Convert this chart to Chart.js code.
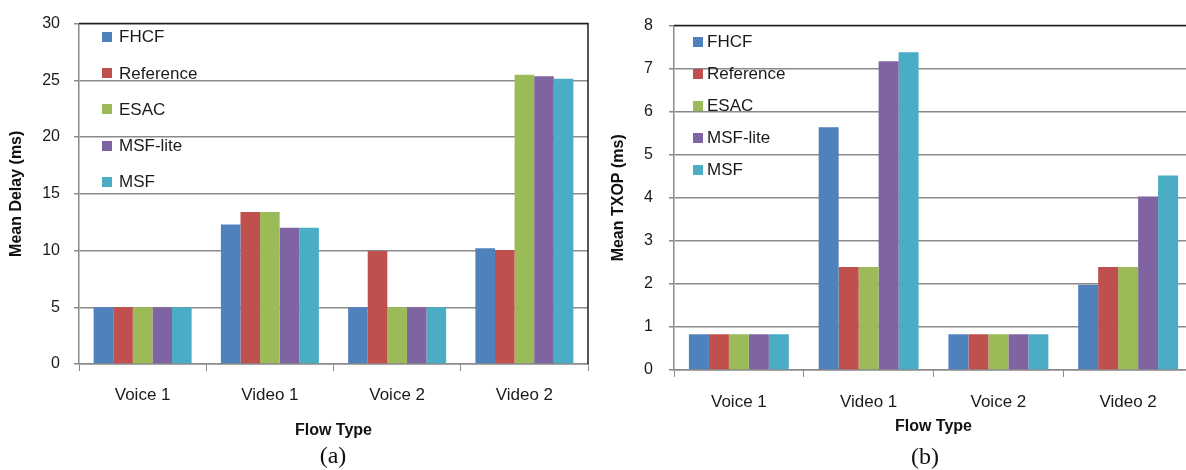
<!DOCTYPE html>
<html>
<head>
<meta charset="utf-8">
<script src="https://cdn.jsdelivr.net/npm/chart.js@4/dist/chart.umd.min.js"></script>
<style>
  html, body { margin: 0; padding: 0; background: #fff; overflow: hidden; width: 1186px; height: 470px; }
  #panelA { position: absolute; left: 0; top: 0; width: 595px; height: 470px; }
  #panelB { position: absolute; left: 595px; top: 0; width: 600px; height: 470px; }
  .cap { position: absolute; font: 24px "Liberation Serif", "DejaVu Serif", serif; color: #111;
         transform: translate(-50%, -50%); white-space: nowrap; }
</style>
</head>
<body>
<div id="panelA"><canvas id="delayChart" width="595" height="470"></canvas></div>
<div id="panelB"><canvas id="txopChart" width="600" height="470"></canvas></div>
<div class="cap" style="left:333px; top:455px;">(a)</div>
<div class="cap" style="left:925px; top:456px;">(b)</div>

<script>
// Flow types on the x axis and the five scheduling schemes compared
const flowTypes = ['Voice 1', 'Video 1', 'Voice 2', 'Video 2'];
const schemes = ['FHCF', 'Reference', 'ESAC', 'MSF-lite', 'MSF'];
const schemeColors = ['#4F81BD', '#C0504D', '#9BBB59', '#8064A2', '#4BACC6'];

// Mean delay (ms), one value per flow type
const delayFHCF      = [5, 12.3, 5,    10.2];
const delayReference = [5, 13.4, 9.95, 10.05];
const delayESAC      = [5, 13.4, 5,    25.5];
const delayMSFLite   = [5, 12.0, 5,    25.35];
const delayMSF       = [5, 12.0, 5,    25.15];

// Mean TXOP (ms), one value per flow type
const txopFHCF      = [0.83, 5.64, 0.83, 1.98];
const txopReference = [0.83, 2.39, 0.83, 2.39];
const txopESAC      = [0.83, 2.39, 0.83, 2.39];
const txopMSFLite   = [0.83, 7.17, 0.83, 4.03];
const txopMSF       = [0.83, 7.38, 0.83, 4.52];

// Value axis ranges: [min, max, step]
const delayAxisRange = [0, 30, 5];
const txopAxisRange  = [0, 8, 1];

Chart.defaults.font.family = '"Liberation Sans", Arial, sans-serif';
Chart.defaults.color = '#1a1a1a';

const GRID = '#8a8a8a';

// Dark frame on the top and right of the plot, plus the in-plot key
const frameAndKey = {
  id: 'frameAndKey',
  afterDatasetsDraw(chart, args, opts) {
    const { ctx, chartArea: a } = chart;
    ctx.save();
    ctx.strokeStyle = '#1e1e1e';
    ctx.lineWidth = 1.5;
    ctx.beginPath();
    ctx.moveTo(a.left, a.top);
    ctx.lineTo(a.right, a.top);
    ctx.lineTo(a.right, a.bottom);
    ctx.stroke();

    ctx.font = '17px "Liberation Sans", Arial, sans-serif';
    ctx.textBaseline = 'middle';
    ctx.textAlign = 'left';
    chart.data.datasets.forEach((ds, i) => {
      const y = a.top + opts.first + i * opts.step;
      ctx.fillStyle = ds.backgroundColor;
      ctx.fillRect(a.left + opts.boxX, Math.round(y - opts.size / 2), opts.size, opts.size);
      ctx.fillStyle = '#1a1a1a';
      ctx.fillText(ds.label, a.left + opts.textX, y + 1);
    });
    ctx.restore();
  }
};

function buildDatasets(series) {
  return series.map((values, i) => ({
    label: schemes[i],
    data: values,
    backgroundColor: schemeColors[i],
    borderWidth: 0,
    barPercentage: 1.0,
    categoryPercentage: 0.77
  }));
}

function makeChart(canvasId, series, range, yTitle, cfg) {
  return new Chart(document.getElementById(canvasId), {
    type: 'bar',
    data: { labels: flowTypes, datasets: buildDatasets(series) },
    plugins: [frameAndKey],
    options: {
      responsive: false,
      animation: false,
      layout: { padding: { left: 0, right: cfg.padRight, top: cfg.padTop, bottom: cfg.padBottom } },
      plugins: {
        legend: { display: false },
        tooltip: { enabled: false },
        frameAndKey: cfg.key
      },
      scales: {
        x: {
          grid: { display: true, drawOnChartArea: false, offset: true, color: GRID, tickLength: 7, lineWidth: 1 },
          border: { color: GRID, width: 1.5 },
          ticks: { font: { size: 17 }, color: '#1a1a1a', padding: cfg.xTickPad, maxRotation: 0 },
          title: { display: true, text: 'Flow Type', font: { size: 16, weight: 'bold' }, color: '#111',
                   padding: { top: 0, bottom: 0 } },
          afterFit: (s) => { s.height = cfg.xHeight; }
        },
        y: {
          min: range[0], max: range[1],
          grid: { color: GRID, lineWidth: 1.5, tickLength: 5 },
          border: { color: GRID, width: 1.5 },
          ticks: { stepSize: range[2], font: { size: 16 }, color: '#1a1a1a', padding: cfg.yTickPad },
          title: { display: true, text: yTitle, font: { size: 16, weight: 'bold' }, color: '#111',
                   padding: { top: cfg.yTitlePad, bottom: 0 } },
          afterFit: (s) => { s.width = 79; }
        }
      }
    }
  });
}

makeChart('delayChart',
  [delayFHCF, delayReference, delayESAC, delayMSFLite, delayMSF],
  delayAxisRange, 'Mean Delay (ms)',
  { padRight: 7, padTop: 20, padBottom: 30, xHeight: 76, xTickPad: 14, yTickPad: 14, yTitlePad: 7,
    key: { first: 13, step: 36.3, size: 10, boxX: 23, textX: 40 } });

makeChart('txopChart',
  [txopFHCF, txopReference, txopESAC, txopMSFLite, txopMSF],
  txopAxisRange, 'Mean TXOP (ms)',
  { padRight: 2, padTop: 24, padBottom: 34, xHeight: 66, xTickPad: 15, yTickPad: 16, yTitlePad: 14,
    key: { first: 16, step: 32, size: 10, boxX: 19, textX: 33 } });
</script>
</body>
</html>
